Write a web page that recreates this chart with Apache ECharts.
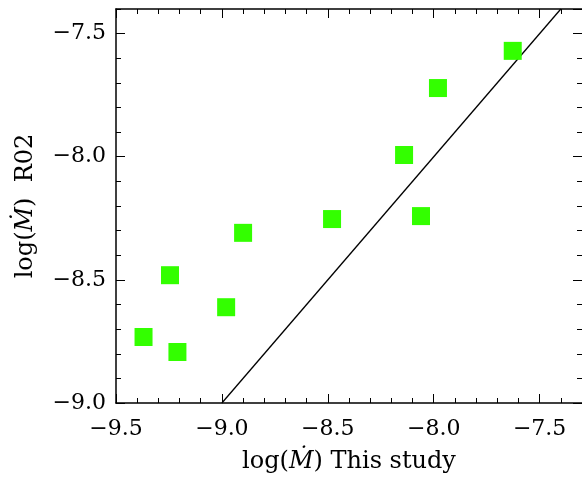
<!DOCTYPE html>
<html>
<head>
<meta charset="utf-8">
<script src="https://cdn.jsdelivr.net/npm/echarts@6/dist/echarts.min.js"></script>
<style>html,body{margin:0;padding:0;background:#fff;}#c{width:582px;height:480px;}</style>
</head>
<body>
<div id="c"></div>
<script>
// Data
var mdotThisStudy = [-9.37, -9.245, -9.21, -8.98, -8.90, -8.48, -8.14, -8.06, -7.98, -7.627];
var mdotR02       = [-8.732, -8.481, -8.793, -8.611, -8.309, -8.253, -7.993, -8.241, -7.721, -7.570];
var oneToOneEnds  = [-9.0, -7.4];
var xTickLabels = [-9.5, -9.0, -8.5, -8.0, -7.5];
var yTickLabels = [-9.0, -8.5, -8.0, -7.5];

var X_MIN = -9.5, X_MAX = -7.3, Y_MIN = -9.0, Y_MAX = -7.4;
var FONT = '"DejaVu Serif", "Liberation Serif", serif';

function fmt(v) {
  return v.toFixed(1).replace('-', '\u2212');
}

var scatterData = mdotThisStudy.map(function (x, i) { return [x, mdotR02[i]]; });
var lineData = oneToOneEnds.map(function (v) { return [v, v]; });

function xAx(pos, major, labels) {
  return {
    type: 'value', position: pos, min: X_MIN, max: X_MAX,
    interval: major ? 0.5 : 0.1,
    axisLine: { show: major, onZero: false, lineStyle: { color: '#000', width: 1.5 } },
    axisTick: { show: true, inside: true, length: major ? 9 : 5, lineStyle: { color: '#000', width: 1 } },
    axisLabel: {
      show: labels, margin: 15, fontFamily: FONT, fontSize: 22, color: '#000',
      showMaxLabel: false, showMinLabel: true,
      formatter: function (v) {
        var ok = xTickLabels.some(function (t) { return Math.abs(t - v) < 1e-6; });
        return ok ? fmt(v) : '';
      }
    },
    splitLine: { show: false },
    name: labels ? '{n|log(}{i|\u1E40}{n|) This study}' : '',
    nameLocation: 'middle', nameGap: 47,
    nameTextStyle: {
      rich: {
        n: { fontFamily: FONT, fontSize: 24, color: '#000' },
        i: { fontFamily: FONT, fontSize: 24, color: '#000', fontStyle: 'italic' }
      }
    }
  };
}

function yAx(pos, major, labels) {
  return {
    type: 'value', position: pos, min: Y_MIN, max: Y_MAX,
    interval: major ? 0.5 : 0.1,
    axisLine: { show: major && pos === 'left', onZero: false, lineStyle: { color: '#000', width: 1.5 } },
    axisTick: { show: true, inside: true, length: major ? 9 : 5, lineStyle: { color: '#000', width: 1 } },
    axisLabel: {
      show: labels, margin: 10, fontFamily: FONT, fontSize: 22, color: '#000',
      showMaxLabel: false, showMinLabel: true,
      formatter: function (v) {
        var ok = yTickLabels.some(function (t) { return Math.abs(t - v) < 1e-6; });
        return ok ? fmt(v) : '';
      }
    },
    splitLine: { show: false },
    name: labels ? '{n|log(}{i|\u1E40}{n|)  R02}' : '',
    nameLocation: 'middle', nameGap: 78, nameRotate: 90,
    nameTextStyle: {
      rich: {
        n: { fontFamily: FONT, fontSize: 24, color: '#000' },
        i: { fontFamily: FONT, fontSize: 24, color: '#000', fontStyle: 'italic' }
      }
    }
  };
}

var chart = echarts.init(document.getElementById('c'), null, { renderer: 'canvas' });
chart.setOption({
  animation: false,
  backgroundColor: '#fff',
  grid: { left: 116, top: 9, width: 468, height: 394, containLabel: false },
  xAxis: [xAx('bottom', true, true), xAx('bottom', false, false), xAx('top', true, false), xAx('top', false, false)],
  yAxis: [yAx('left', true, true), yAx('left', false, false), yAx('right', true, false), yAx('right', false, false)],
  series: [
    {
      type: 'line', xAxisIndex: 0, yAxisIndex: 0, data: lineData,
      symbol: 'none', clip: true,
      lineStyle: { color: '#000', width: 1.3 }, z: 2
    },
    {
      type: 'scatter', xAxisIndex: 0, yAxisIndex: 0, data: scatterData,
      symbol: 'rect', symbolSize: 18,
      itemStyle: { color: '#33ff00', opacity: 1 }, z: 3
    }
  ]
});
</script>
</body>
</html>
